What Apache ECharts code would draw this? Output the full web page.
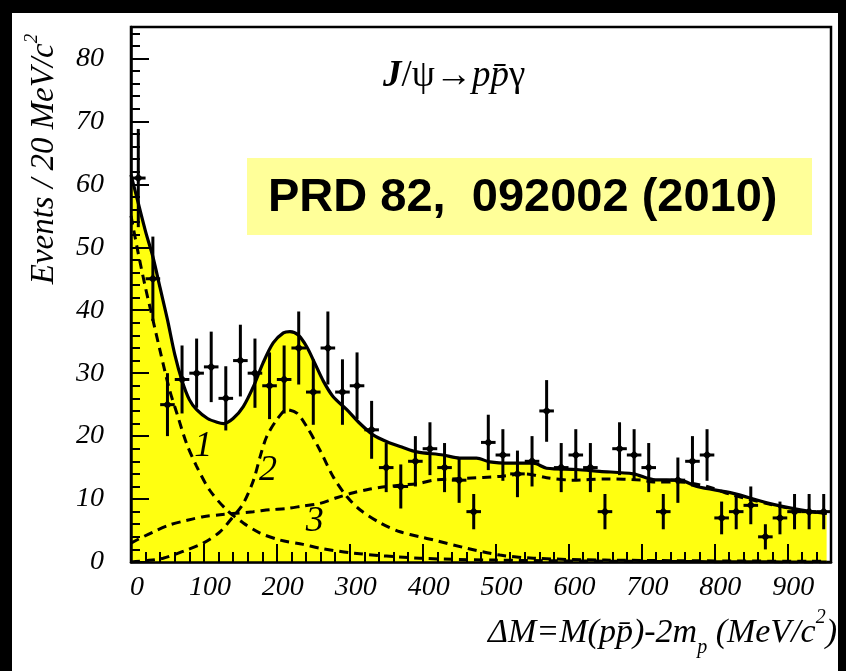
<!DOCTYPE html>
<html>
<head>
<meta charset="utf-8">
<script src="https://cdn.jsdelivr.net/npm/echarts@6/dist/echarts.min.js"></script>
<style>
  html, body { margin: 0; padding: 0; background: #000; }
  #panel { position: absolute; left: 12px; top: 13px; width: 826px; height: 658px; background: #fff; }
  #chart { position: absolute; left: 0; top: 0; width: 846px; height: 671px; }
</style>
</head>
<body>
<div id="panel"></div>
<div id="chart"></div>
<script>
// Bin centres (MeV/c^2), 20 MeV bins
const binCenters = [10, 30, 50, 70, 90, 110, 130, 150, 170, 190,
                    210, 230, 250, 270, 290, 310, 330, 350, 370, 390,
                    410, 430, 450, 470, 490, 510, 530, 550, 570, 590,
                    610, 630, 650, 670, 690, 710, 730, 750, 770, 790,
                    810, 830, 850, 870, 890, 910, 930, 950];
// Events per bin
const counts = [61, 45, 25, 29, 30, 31, 26, 32, 30, 28,
                29, 34, 27, 34, 27, 28, 21, 15, 12, 16,
                18, 15, 13, 8, 19, 17, 14, 16, 24, 15,
                17, 15, 8, 18, 17, 15, 8, 13, 16, 17,
                7, 8, 9, 4, 7, 8, 8, 8];
// Statistical errors per bin
const errors = [7.8, 6.7, 5.0, 5.4, 5.5, 5.6, 5.1, 5.7, 5.5, 5.3,
                5.4, 5.8, 5.2, 5.8, 5.2, 5.3, 4.6, 3.9, 3.5, 4.0,
                4.2, 3.9, 3.6, 2.8, 4.4, 4.1, 3.7, 4.0, 4.9, 3.9,
                4.1, 3.9, 2.8, 4.2, 4.1, 3.9, 2.8, 3.6, 4.0, 4.1,
                2.6, 2.8, 3.0, 2.0, 2.6, 2.8, 2.8, 2.8];

// Total fit
const totalFit = [[0, 61.5], [10, 57], [20, 52.5], [30, 48.5], [40, 43.5], [50, 38.5], [60, 33], [70, 28.8],
  [80, 25.8], [90, 24.2], [105, 22.8], [118, 22.2], [127, 22.0], [140, 22.8], [154, 24.7],
  [168, 27.9], [181, 31.6], [195, 34.8], [209, 36.4], [218, 36.6], [229, 36.1], [241, 34.2],
  [252, 31.6], [264, 28.7], [277, 26.3], [296, 24.2], [314, 22.0], [332, 20.2], [351, 19.1],
  [373, 18.2], [392, 17.5], [428, 17.0], [451, 16.5], [474, 16.5], [492, 15.9], [520, 15.7],
  [552, 15.7], [570, 14.9], [611, 14.7], [643, 14.4], [689, 14.0], [716, 13.1], [753, 13.0],
  [776, 12.0], [826, 10.9], [872, 9.4], [918, 8.3], [954, 7.7]];
// Component 1: near-threshold enhancement
const comp1 = [[0, 55], [10, 49], [20, 43.5], [30, 38.5], [40, 33.5], [53, 27.3], [63, 23.6], [76, 18.9],
  [90, 15.2], [108, 11.4], [131, 8.3], [154, 6.2], [177, 4.6], [204, 3.5], [236, 2.8],
  [259, 2.2], [305, 1.4], [396, 0.6], [500, 0.3], [700, 0.1], [954, 0]];
// Component 2: resonance near 220 MeV
const comp2 = [[0, 0], [20, 0.2], [44, 0.6], [76, 1.9], [99, 3.0], [122, 4.8], [140, 7.2], [154, 9.3],
  [168, 13.0], [177, 16.7], [186, 19.9], [200, 22.6], [214, 24.2], [228, 23.6], [241, 21.5],
  [259, 17.8], [277, 13.6], [296, 10.4], [314, 8.3], [342, 6.2], [369, 4.8], [396, 4.0],
  [415, 3.5], [460, 2.2], [506, 1.1], [552, 0.6], [650, 0.3], [954, 0.1]];
// Component 3: broad phase-space shape
const comp3 = [[0, 3.0], [8, 3.5], [31, 4.8], [53, 5.9], [76, 6.6], [99, 7.2], [122, 7.5], [140, 7.7],
  [168, 8.0], [191, 8.3], [214, 8.5], [236, 8.9], [259, 9.3], [282, 10.2], [305, 11.0],
  [328, 11.6], [351, 12.0], [396, 12.5], [415, 13.0], [460, 13.3], [506, 13.6], [540, 14.0],
  [570, 13.4], [606, 13.0], [650, 13.2], [700, 13.0], [716, 12.7], [753, 12.7], [790, 12.0],
  [826, 10.6], [872, 9.3], [918, 8.2], [954, 7.7]];
// Component labels placed in data coordinates
const compLabels = [[99, 18.3, '1'], [188, 14.6, '2'], [252, 6.5, '3']];

// Axis ticks
const xMajor = [0, 100, 200, 300, 400, 500, 600, 700, 800, 900];
const yMajor = [0, 10, 20, 30, 40, 50, 60, 70, 80];
const xMinor = [];
for (let v = 20; v < 960; v += 20) if (v % 100 !== 0) xMinor.push(v);
const yMinor = [];
for (let v = 2; v < 85; v += 2) if (v % 10 !== 0) yMinor.push(v);

const serif = '"Liberation Serif", "DejaVu Serif", serif';
const labelFont = { fontFamily: serif, fontStyle: 'italic', fontSize: 28, color: '#000' };
const dashed = { color: '#000', width: 3, type: [9, 6] };

const chart = echarts.init(document.getElementById('chart'), null, { renderer: 'canvas' });

const option = {
  backgroundColor: 'transparent',
  animation: false,
  grid: { left: 131, top: 27, width: 700, height: 535, show: true, borderColor: '#000', borderWidth: 2.5, backgroundColor: 'transparent' },
  xAxis: [
    {
      type: 'value', min: 0, max: 960, position: 'bottom', z: 5,
      axisLine: { lineStyle: { color: '#000', width: 2.5 } },
      axisTick: { inside: true, length: 18, customValues: xMajor, lineStyle: { color: '#000', width: 2 } },
      axisLabel: Object.assign({ customValues: xMajor, margin: 12, padding: [0, 0, 0, 12] }, labelFont),
      splitLine: { show: false }
    },
    {
      type: 'value', min: 0, max: 960, position: 'bottom', z: 5,
      axisLine: { show: false },
      axisTick: { inside: true, length: 10, customValues: xMinor, lineStyle: { color: '#000', width: 2 } },
      axisLabel: { show: false },
      splitLine: { show: false }
    }
  ],
  yAxis: [
    {
      type: 'value', min: 0, max: 85, position: 'left', z: 5,
      axisLine: { show: true, lineStyle: { color: '#000', width: 2.5 } },
      axisTick: { show: true, inside: true, length: 18, customValues: yMajor, lineStyle: { color: '#000', width: 2 } },
      axisLabel: Object.assign({ customValues: yMajor, margin: 27, padding: [0, 0, 4, 0] }, labelFont),
      splitLine: { show: false }
    },
    {
      type: 'value', min: 0, max: 85, position: 'left', z: 5,
      axisLine: { show: false },
      axisTick: { show: true, inside: true, length: 9, customValues: yMinor, lineStyle: { color: '#000', width: 2 } },
      axisLabel: { show: false },
      splitLine: { show: false }
    }
  ],
  series: [
    {
      name: 'total', type: 'line', data: totalFit, smooth: 0.3, symbol: 'none', z: 2,
      lineStyle: { color: '#000', width: 3.2 },
      areaStyle: { color: '#FFFF10', opacity: 1 }
    },
    { name: 'comp1', type: 'line', data: comp1, smooth: 0.3, symbol: 'none', z: 3, lineStyle: dashed },
    { name: 'comp2', type: 'line', data: comp2, smooth: 0.3, symbol: 'none', z: 3, lineStyle: dashed },
    { name: 'comp3', type: 'line', data: comp3, smooth: 0.3, symbol: 'none', z: 3, lineStyle: dashed },
    {
      name: 'data', type: 'custom', z: 4, clip: true,
      data: binCenters.map((x, i) => [x, counts[i], errors[i]]),
      renderItem: function (params, api) {
        const x = api.value(0), y = api.value(1), e = api.value(2);
        const c = api.coord([x, y]);
        const top = api.coord([x, y + e]);
        const bot = api.coord([x, Math.max(0, y - e)]);
        const lft = api.coord([x - 10, y]);
        const rgt = api.coord([x + 10, y]);
        const st = { stroke: '#000', lineWidth: 3 };
        return {
          type: 'group',
          children: [
            { type: 'line', shape: { x1: c[0], y1: top[1], x2: c[0], y2: bot[1] }, style: st },
            { type: 'line', shape: { x1: lft[0], y1: c[1], x2: rgt[0], y2: c[1] }, style: st },
            { type: 'polygon', shape: { points: [[c[0], c[1] - 4.5], [c[0] + 4.5, c[1]], [c[0], c[1] + 4.5], [c[0] - 4.5, c[1]]] }, style: { fill: '#000' } }
          ]
        };
      }
    },
    {
      name: 'labels', type: 'custom', z: 4, silent: true,
      data: compLabels,
      renderItem: function (params, api) {
        const p = api.coord([api.value(0), api.value(1)]);
        return {
          type: 'text',
          x: p[0], y: p[1],
          style: {
            text: compLabels[params.dataIndex][2],
            align: 'center', verticalAlign: 'middle',
            font: 'italic 36px ' + serif, fill: '#000'
          }
        };
      }
    }
  ],
  graphic: [
    {
      type: 'text', x: 44, y: 159, rotation: Math.PI / 2, z: 10,
      style: {
        text: '{n|Events / 20 MeV/c}{s|2}',
        align: 'center', verticalAlign: 'middle',
        rich: {
          n: { fontFamily: serif, fontStyle: 'italic', fontSize: 33, lineHeight: 44, fill: '#000' },
          s: { fontFamily: serif, fontStyle: 'italic', fontSize: 19, verticalAlign: 'top', fill: '#000' }
        }
      }
    },
    {
      type: 'text', x: 837, y: 633, z: 10,
      style: {
        text: '{n|ΔM=M(pp\u0304)-2m}{b|p}{n| (MeV/c}{s|2}{n|)}',
        align: 'right', verticalAlign: 'middle',
        rich: {
          n: { fontFamily: serif, fontStyle: 'italic', fontSize: 34, lineHeight: 50, fill: '#000' },
          s: { fontFamily: serif, fontStyle: 'italic', fontSize: 20, verticalAlign: 'top', fill: '#000' },
          b: { fontFamily: serif, fontStyle: 'italic', fontSize: 20, verticalAlign: 'bottom', fill: '#000' }
        }
      }
    },
    {
      type: 'text', x: 383, y: 76, z: 10,
      style: {
        text: '{j|J}{r|/ψ→}{i|pp\u0304}{r|γ}',
        align: 'left', verticalAlign: 'middle',
        rich: {
          j: { fontFamily: serif, fontStyle: 'italic', fontWeight: 'bold', fontSize: 37, fill: '#000' },
          r: { fontFamily: serif, fontSize: 37, fill: '#000' },
          i: { fontFamily: serif, fontStyle: 'italic', fontSize: 37, fill: '#000' }
        }
      }
    },
    {
      type: 'rect', z: 10,
      shape: { x: 247, y: 158, width: 565, height: 77 },
      style: { fill: '#FFFF99' }
    },
    {
      type: 'text', x: 268, y: 198, z: 11,
      style: {
        text: 'PRD 82,  092002 (2010)',
        align: 'left', verticalAlign: 'middle',
        fontFamily: '"Liberation Sans", Arial, sans-serif', fontWeight: 'bold', fontSize: 47, fill: '#000'
      }
    }
  ]
};

chart.setOption(option);
</script>
</body>
</html>
